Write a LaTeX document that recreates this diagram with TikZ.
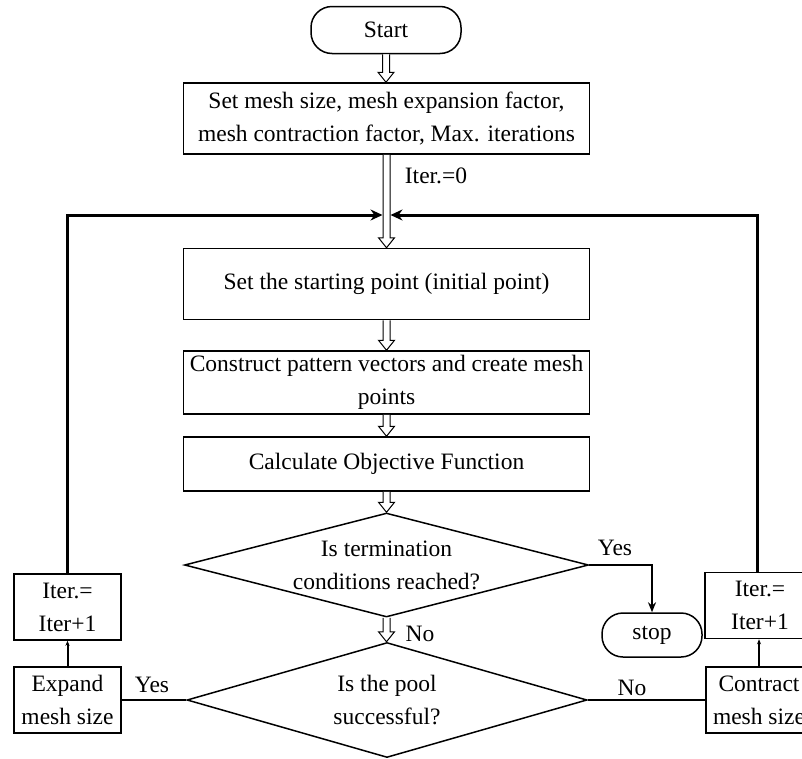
\documentclass[tikz,border=0pt]{standalone}
\usepackage{fontspec}
\setmainfont{Liberation Serif}
\usetikzlibrary{arrows.meta,shapes.geometric,calc}
\newcommand\harrow[2]{%
  \draw[hollow] let \p1=(#1), \p2=(#2) in
    (\x1-3.5pt,\y1) -- (\x1-3.5pt,\y2+10pt) -- (\x1-8pt,\y2+10pt) -- (\x1,\y2)
    -- (\x1+8pt,\y2+10pt) -- (\x1+3.5pt,\y2+10pt) -- (\x1+3.5pt,\y1);}
\tikzset{
  txt/.style={font=\fontsize{23.5}{33}\selectfont, align=center, inner sep=0pt},
  box/.style={txt, draw, line width=1.5pt, minimum width=406pt},
  sbox/.style={txt, draw, line width=1.5pt, minimum width=107pt, minimum height=66pt},
  term/.style={txt, draw, line width=1.5pt, rounded corners=21pt},
  diam/.style={draw, diamond, line width=1.5pt, inner sep=0pt},
  hollow/.style={line width=1pt, fill=white, line join=miter},
  fb/.style={line width=3pt, -{Stealth[length=12pt,width=11pt]}},
  conn/.style={line width=2pt},
  lab/.style={font=\fontsize{23.5}{28}\selectfont, inner sep=0pt}
}
\begin{document}
\begin{tikzpicture}[x=1pt,y=-1pt]
\useasboundingbox (0,0) rectangle (802,758);
\node[term, minimum width=150pt, minimum height=47pt] (start) at (386,30) {Start};
\node[box, minimum height=71pt] (b1) at (386.5,118.5) {Set mesh size, mesh expansion factor,\\mesh contraction factor, Max. iterations};
\node[box, minimum height=71pt] (b2) at (386.5,284) {Set the starting point (initial point)};
\node[box, minimum height=63pt] (b3) at (386.5,382.5) {Construct pattern vectors and create mesh\\points};
\node[box, minimum height=54pt] (b4) at (386.5,464) {Calculate Objective Function};
\node[diam, minimum width=404pt, minimum height=104pt] (d1) at (386.5,565) {};
\node[txt] (d1t) at (d1) {Is termination\\conditions reached?};
\node[diam, minimum width=400pt, minimum height=115pt] (d2) at (387,700) {};
\node[txt] (d2t) at (d2) {Is the pool\\successful?};
\node[term, minimum width=100pt, minimum height=44pt] (stop) at (652,635) {stop};
\node[sbox] (itl) at (67.5,607) {Iter.=\\Iter+1};
\node[sbox] (exp) at (67.5,700) {Expand\\mesh size};
\node[sbox, minimum width=110pt] (itr) at (760,605.5) {Iter.=\\Iter+1};
\node[sbox, minimum width=106pt] (con) at (759,700) {Contract\\mesh size};
% hollow arrows
\harrow{start.south}{b1.north}
\harrow{b1.south}{b2.north}
\harrow{b2.south}{b3.north}
\harrow{b3.south}{b4.north}
\harrow{b4.south}{d1.north}
\harrow{d1.south}{d2.north}
% feedback loops
\coordinate (jl) at (382.5,215);
\coordinate (jr) at (390.5,215);
\draw[fb] (itl.north) |- (jl);
\draw[fb] (itr.north -| 757,0) |- (jr);
% branch connectors
\draw[conn, -{Stealth[length=10pt,width=8pt]}] (d1.east) -| (stop.north);
\draw[conn] (d2.west) -- (exp.east);
\draw[conn] (d2.east) -- (con.west);
\draw[conn, -{Stealth[length=5pt,width=4pt]}] (exp.north) -- (itl.south);
\draw[conn, -{Stealth[length=5pt,width=4pt]}] (con.north -| 759,0) -- (itr.south -| 759,0);
% labels
\node[lab] (l0) at (436,176) {Iter.=0};
\node[lab] (ly1) at (615,548) {Yes};
\node[lab] (ln1) at (420,634) {No};
\node[lab] (ly2) at (152,685) {Yes};
\node[lab] (ln2) at (632,688) {No};
\end{tikzpicture}
\end{document}
